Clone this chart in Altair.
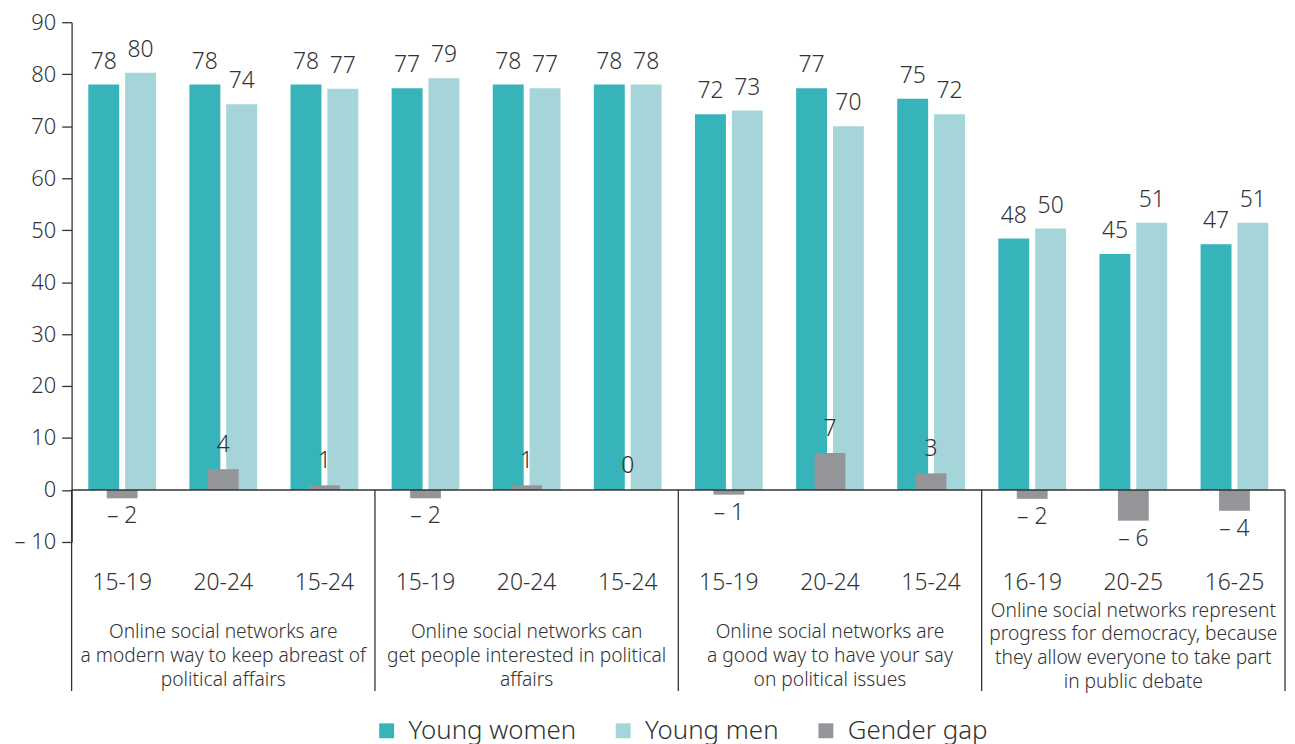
import json
import altair as alt
import pandas as pd

FONT = "Noto Sans"
TXT = "#333333"
FW = 300

age_labels = ["15-19", "20-24", "15-24", "15-19", "20-24", "15-24",
              "15-19", "20-24", "15-24", "16-19", "20-25", "16-25"]
young_women = [78.0, 78.0, 78.0, 77.3, 78.0, 78.0, 72.3, 77.3, 75.3, 48.4, 45.4, 47.3]
young_men = [80.3, 74.2, 77.2, 79.2, 77.3, 78.0, 73.0, 70.0, 72.3, 50.3, 51.4, 51.4]
gender_gap = [-1.6, 4.0, 0.9, -1.6, 0.9, 0.0, -0.9, 7.1, 3.2, -1.7, -5.9, -4.0]
group_labels = [
    "Online social networks are\na modern way to keep abreast of\npolitical affairs",
    "Online social networks can\nget people interested in political\naffairs",
    "Online social networks are\na good way to have your say\non political issues",
    "Online social networks represent\nprogress for democracy, because\nthey allow everyone to take part\nin public debate",
]
group_centers = [1.5, 4.5, 7.5, 10.5]
group_bounds = [0, 3, 6, 9, 12]
series = ["Young women", "Young men", "Gender gap"]
colors = ["#36B4B9", "#A5D5D8", "#939598"]

W, H = 1221, 523

keys = [str(i) for i in range(12)]
bars_df = pd.DataFrame({
    "key": keys * 2,
    "series": ["Young women"] * 12 + ["Young men"] * 12,
    "value": young_women + young_men,
})
gap_df = pd.DataFrame({"key": keys, "series": "Gender gap", "gap": gender_gap})
sep_df = pd.DataFrame({"pos": group_bounds, "zero": 0})
grp_df = pd.DataFrame({"pos": group_centers, "label": group_labels})
zero_df = pd.DataFrame({"z": [0]})

xscale = alt.Scale(domain=keys, paddingInner=0.33, paddingOuter=0.165)
x_axis = alt.Axis(
    labelExpr=json.dumps(age_labels) + "[toNumber(datum.value)]",
    title=None, domain=False, ticks=False, labelPadding=30,
    labelFontSize=23, labelAngle=0, labelColor=TXT, labelFont=FONT,
    labelFontWeight=FW,
)
yscale = alt.Scale(domain=[-10, 90], nice=False, zero=False)
y_axis = alt.Axis(
    values=list(range(-10, 91, 10)),
    labelExpr="datum.value < 0 ? '\u2013 ' + abs(datum.value) : '' + datum.value",
    grid=False, title=None, tickSize=10, labelPadding=6,
    labelFontSize=22, labelColor=TXT, labelFont=FONT, labelFontWeight=FW,
    domainColor=TXT, tickColor=TXT, domainWidth=1.3, tickWidth=1.3,
)
color = alt.Color(
    "series:N",
    scale=alt.Scale(domain=series, range=colors),
    legend=alt.Legend(
        title=None, orient="none", legendX=304, legendY=700,
        direction="horizontal", symbolType="square", symbolSize=225,
        symbolStrokeWidth=0, labelFontSize=26, labelFont=FONT,
        labelFontWeight=FW, labelColor=TXT, columnPadding=34,
        labelOffset=9, labelLimit=400,
    ),
)
xoff = alt.XOffset(
    "series:N",
    scale=alt.Scale(domain=["Young women", "Young men"], paddingInner=0.16, paddingOuter=0),
)

bars = alt.Chart(bars_df).mark_bar().encode(
    x=alt.X("key:N", scale=xscale, axis=x_axis, sort=keys),
    xOffset=xoff,
    y=alt.Y("value:Q", scale=yscale, axis=y_axis),
    color=color,
)

value_text = alt.Chart(bars_df).mark_text(
    dy=-16, baseline="alphabetic", fontSize=23, font=FONT, color=TXT, fontWeight=FW
).transform_calculate(
    label="format(round(datum.value), 'd')"
).encode(
    x=alt.X("key:N", scale=xscale, axis=None, sort=keys),
    xOffset=xoff,
    y=alt.Y("value:Q", scale=yscale, axis=y_axis),
    text="label:N",
)

gap_bars = alt.Chart(gap_df).mark_bar(size=31).encode(
    x=alt.X("key:N", scale=xscale, axis=None, sort=keys),
    y=alt.Y("gap:Q", scale=yscale, axis=y_axis),
    color=color,
)

gap_lab = alt.Chart(gap_df).transform_calculate(
    r="round(datum.gap)",
    label="datum.r < 0 ? '\u2013 ' + abs(datum.r) : '' + datum.r",
)
gap_pos = gap_lab.transform_filter("datum.r >= 0").mark_text(
    dy=-17, baseline="alphabetic", fontSize=23, font=FONT, color=TXT, fontWeight=FW
).encode(
    x=alt.X("key:N", scale=xscale, axis=None, sort=keys),
    y=alt.Y("gap:Q", scale=yscale, axis=y_axis),
    text="label:N",
)
gap_neg = gap_lab.transform_filter("datum.r < 0").mark_text(
    dy=7, baseline="top", fontSize=23, font=FONT, color=TXT, fontWeight=FW
).encode(
    x=alt.X("key:N", scale=xscale, axis=None, sort=keys),
    y=alt.Y("gap:Q", scale=yscale, axis=y_axis),
    text="label:N",
)

zero_line = alt.Chart(zero_df).mark_rule(color=TXT, strokeWidth=1.5).encode(
    y=alt.Y("z:Q", scale=yscale, axis=y_axis),
    x=alt.value(0),
    x2=alt.value(W),
)

qscale = alt.Scale(domain=[0, 12], nice=False, zero=False)
separators = alt.Chart(sep_df).mark_rule(color=TXT, strokeWidth=1.3).encode(
    x=alt.X("pos:Q", scale=qscale, axis=None),
    y=alt.Y("zero:Q", scale=yscale, axis=y_axis),
    y2=alt.value(673),
)

grp_base = alt.Chart(grp_df).transform_calculate(
    nlines="length(split(datum.label, '\\n'))"
)
text_kw = dict(lineBreak="\n", baseline="top", fontSize=19.3, lineHeight=24,
               font=FONT, color=TXT, align="center", fontWeight=FW)
group_text3 = grp_base.transform_filter("datum.nlines <= 3").mark_text(**text_kw).encode(
    x=alt.X("pos:Q", scale=qscale, axis=None),
    y=alt.value(605),
    text="label:N",
)
group_text4 = grp_base.transform_filter("datum.nlines > 3").mark_text(**text_kw).encode(
    x=alt.X("pos:Q", scale=qscale, axis=None),
    y=alt.value(583),
    text="label:N",
)

chart = alt.layer(
    bars, gap_bars, zero_line, value_text, gap_pos, gap_neg, separators,
    group_text3, group_text4,
).resolve_scale(x="independent").properties(
    width=W, height=H,
    autosize=alt.AutoSizeParams(type="none"),
    padding={"left": 64, "top": 12, "right": 2, "bottom": 204},
    background="white",
).configure_view(stroke=None)

chart.save("out.html", embed_options={"renderer": "svg", "actions": False})
